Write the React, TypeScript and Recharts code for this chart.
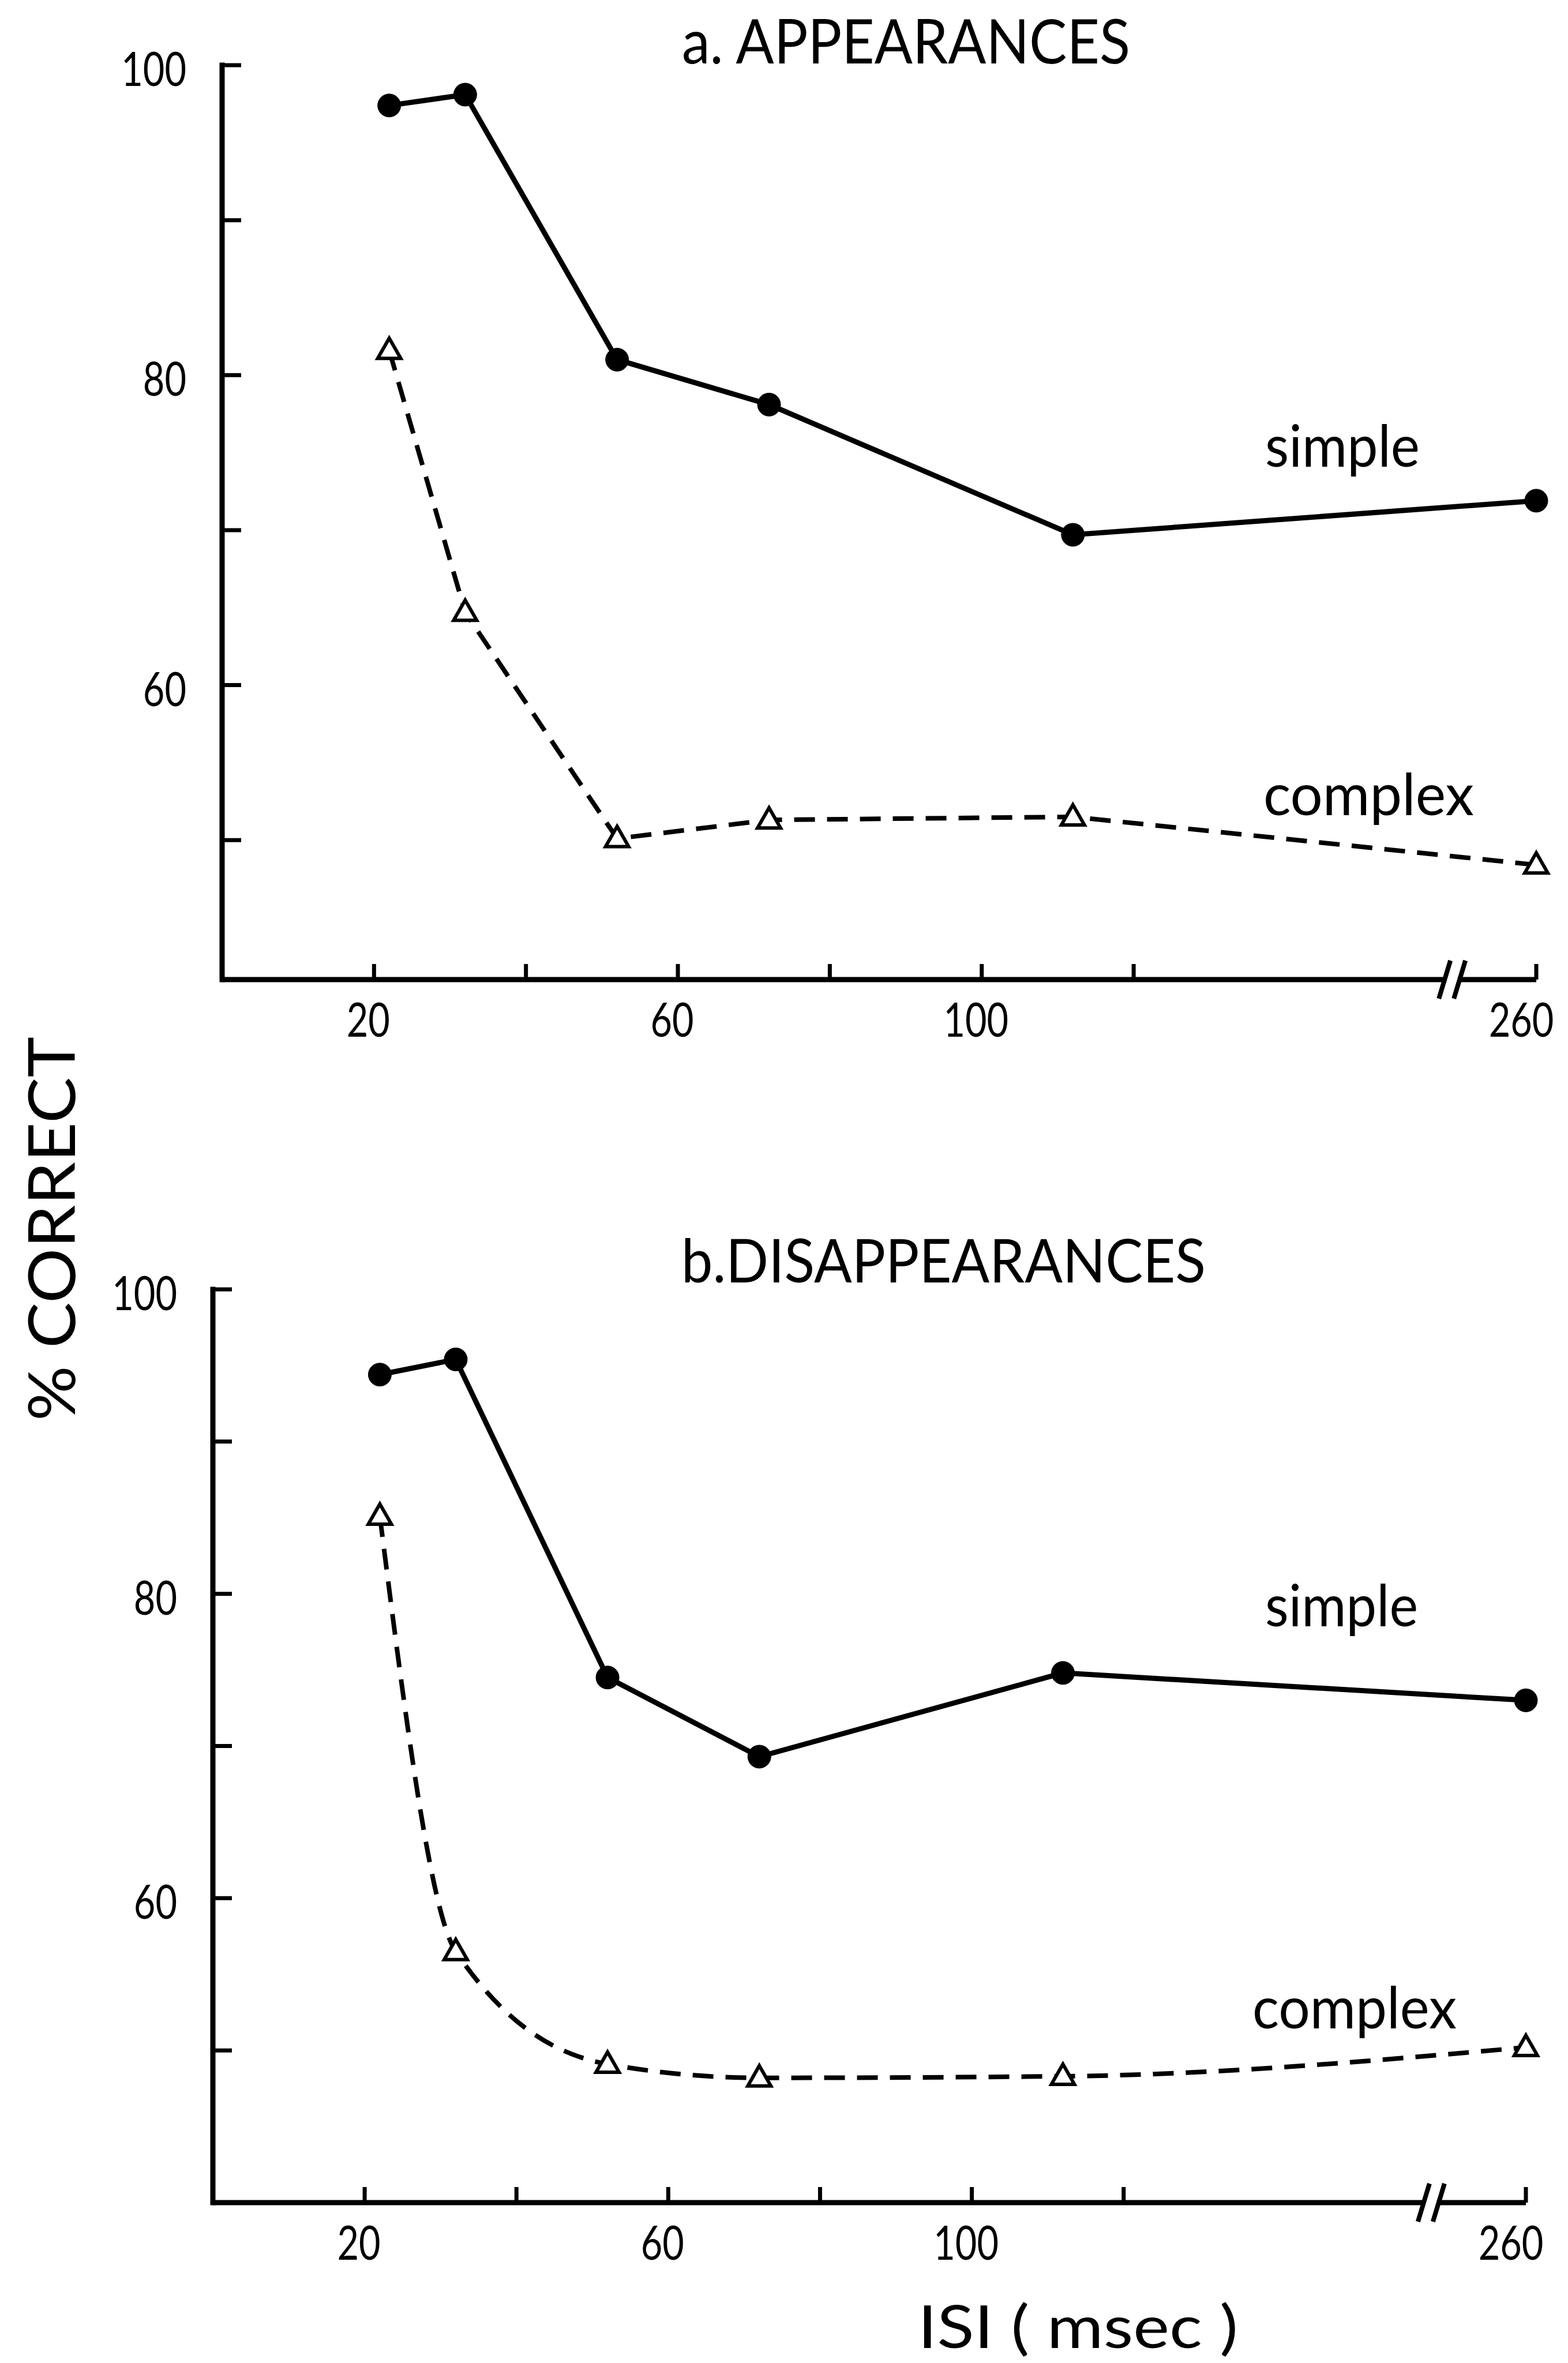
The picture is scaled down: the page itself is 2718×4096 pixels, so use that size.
import React from 'react';
import { LineChart, Line, XAxis, YAxis, ReferenceDot } from 'recharts';

// ISI in msec; the 260 point sits past the axis break
const ISI_MS = [22, 32, 52, 72, 112, 260];

// % correct
const APP_SIMPLE = [97.4, 98.1, 81.0, 78.1, 69.7, 71.9];
const APP_COMPLEX = [81.6, 64.7, 50.1, 51.3, 51.5, 48.4];
const DIS_SIMPLE = [94.4, 95.4, 74.5, 69.3, 74.8, 73.0];
const DIS_COMPLEX = [85.1, 56.5, 49.1, 48.2, 48.3, 50.2];

const X_MAX = 173; // axis position where 260 is drawn
const X_TICKS = [20, 40, 60, 80, 100, 120, 173];
const X_TICK_LABELS = ['20', '', '60', '', '100', '', '260'];
const Y_TICKS = [50, 60, 70, 80, 90, 100];
const Y_TICK_LABELS = ['', '60', '', '80', '', '100'];

const W = 2718;
const H = 4096;
const FONT = 'Lato, "Noto Sans", sans-serif';

// values beyond the break are pinned to the end of the axis
const toPos = (ms: number) => (ms > 150 ? X_MAX : ms);

// narrow numerals, like the original typeface
function Num({ x, y, anchor, children }: { x: number; y: number; anchor: 'start' | 'middle' | 'end'; children: string }) {
  return (
    <text
      transform={`translate(${x},${y}) scale(0.8,1)`}
      textAnchor={anchor}
      fontSize={81}
      fontFamily={FONT}
      fill="#000"
    >
      {children}
    </text>
  );
}

function XTick(props: any) {
  const { x, y, payload } = props;
  const i = X_TICKS.indexOf(payload.value);
  const label = i >= 0 ? X_TICK_LABELS[i] : '';
  const last = i === X_TICKS.length - 1;
  return (
    <g>
      <line x1={x} y1={y} x2={x} y2={y - 27} stroke="#000" strokeWidth={7} />
      {label && (
        <Num x={x - (last ? 26 : 10)} y={y + 99} anchor="middle">
          {label}
        </Num>
      )}
    </g>
  );
}

function YTick(props: any) {
  const { x, y, payload } = props;
  const i = Y_TICKS.indexOf(payload.value);
  const label = i >= 0 ? Y_TICK_LABELS[i] : '';
  return (
    <g>
      <line x1={x} y1={y} x2={x + 33} y2={y} stroke="#000" strokeWidth={7} />
      {label && (
        <Num x={x - 62} y={y + 36} anchor="end">
          {label}
        </Num>
      )}
    </g>
  );
}

const renderTriangle = (props: any) => {
  const { cx, cy, index } = props;
  if (cx == null || cy == null) return <g key={`t-${index}`} />;
  return (
    <path
      key={`t-${index}`}
      d={`M${cx},${cy - 21} L${cx + 20},${cy + 14} L${cx - 20},${cy + 14} Z`}
      fill="#fff"
      stroke="#000"
      strokeWidth={6}
    />
  );
};

// the "//" axis break
const renderBreak = (props: any) => {
  const { cx, cy } = props;
  return (
    <g>
      <rect x={cx - 11} y={cy - 8} width={20} height={16} fill="#fff" />
      <line x1={cx - 24} y1={cy + 33} x2={cx - 4} y2={cy - 33} stroke="#000" strokeWidth={8} />
      <line x1={cx + 2} y1={cy + 33} x2={cx + 22} y2={cy - 33} stroke="#000" strokeWidth={8} />
    </g>
  );
};

interface PanelProps {
  top: number;
  plotLeft: number;
  plotRight: number;
  plotHeight: number;
  yMin: number;
  breakPos: number;
  curve: 'linear' | 'monotone';
  simple: number[];
  complex: number[];
}

function Panel({ top, plotLeft, plotRight, plotHeight, yMin, breakPos, curve, simple, complex }: PanelProps) {
  const rows = ISI_MS.map((ms, i) => ({ pos: toPos(ms), simple: simple[i], complex: complex[i] }));
  const height = 113 + plotHeight + 150 + 52;

  return (
    <div style={{ position: 'absolute', left: 0, top }}>
      <LineChart
        width={W}
        height={height}
        data={rows}
        margin={{ top: 113, right: W - plotRight, bottom: 52, left: 0 }}
      >
        <XAxis
          type="number"
          dataKey="pos"
          domain={[0, X_MAX]}
          ticks={X_TICKS}
          interval={0}
          height={150}
          tickSize={0}
          tickMargin={0}
          tickLine={false}
          axisLine={{ stroke: '#000', strokeWidth: 9 }}
          tick={<XTick />}
        />
        <YAxis
          type="number"
          domain={[yMin, 100]}
          ticks={Y_TICKS}
          interval={0}
          width={plotLeft}
          tickSize={0}
          tickMargin={0}
          tickLine={false}
          axisLine={{ stroke: '#000', strokeWidth: 9, strokeLinecap: 'square' }}
          tick={<YTick />}
        />
        <Line
          type={curve}
          dataKey="complex"
          stroke="#000"
          strokeWidth={8}
          strokeDasharray="36 21"
          dot={renderTriangle}
          activeDot={false}
          isAnimationActive={false}
        />
        <Line
          type="linear"
          dataKey="simple"
          stroke="#000"
          strokeWidth={9}
          dot={{ r: 20, fill: '#000', stroke: '#000', strokeWidth: 1 }}
          activeDot={false}
          isAnimationActive={false}
        />
        <ReferenceDot x={breakPos} y={yMin} r={1} shape={renderBreak} ifOverflow="visible" />
      </LineChart>
    </div>
  );
}

export default function App() {
  return (
    <div style={{ position: 'absolute', left: 0, top: 0, width: W, height: H, background: '#fff' }}>
      <Panel
        top={0}
        plotLeft={385}
        plotRight={2663}
        plotHeight={1585}
        yMin={41}
        breakPos={162}
        curve="linear"
        simple={APP_SIMPLE}
        complex={APP_COMPLEX}
      />
      <Panel
        top={2122}
        plotLeft={369}
        plotRight={2645}
        plotHeight={1583}
        yMin={40}
        breakPos={160.6}
        curve="monotone"
        simple={DIS_SIMPLE}
        complex={DIS_COMPLEX}
      />
      <svg
        width={W}
        height={H}
        style={{ position: 'absolute', left: 0, top: 0, pointerEvents: 'none' }}
        fontFamily={FONT}
        fill="#000"
      >
        <text x={1182} y={110} fontSize={106} textLength={777} lengthAdjust="spacingAndGlyphs">
          a. APPEARANCES
        </text>
        <text x={1181} y={2223} fontSize={104} textLength={909} lengthAdjust="spacingAndGlyphs">
          b.DISAPPEARANCES
        </text>
        <text x={2193} y={809} fontSize={100} textLength={268} lengthAdjust="spacingAndGlyphs">
          simple
        </text>
        <text x={2190} y={1413} fontSize={100} textLength={365} lengthAdjust="spacingAndGlyphs">
          complex
        </text>
        <text x={2193} y={2819} fontSize={100} textLength={265} lengthAdjust="spacingAndGlyphs">
          simple
        </text>
        <text x={2171} y={3516} fontSize={100} textLength={354} lengthAdjust="spacingAndGlyphs">
          complex
        </text>
        <text x={1591} y={4070} fontSize={102} textLength={555} lengthAdjust="spacingAndGlyphs">
          ISI  ( msec )
        </text>
        <text
          transform="translate(130,2130) rotate(-90)"
          textAnchor="middle"
          fontSize={112}
          textLength={666}
          lengthAdjust="spacingAndGlyphs"
        >
          %  CORRECT
        </text>
      </svg>
    </div>
  );
}
